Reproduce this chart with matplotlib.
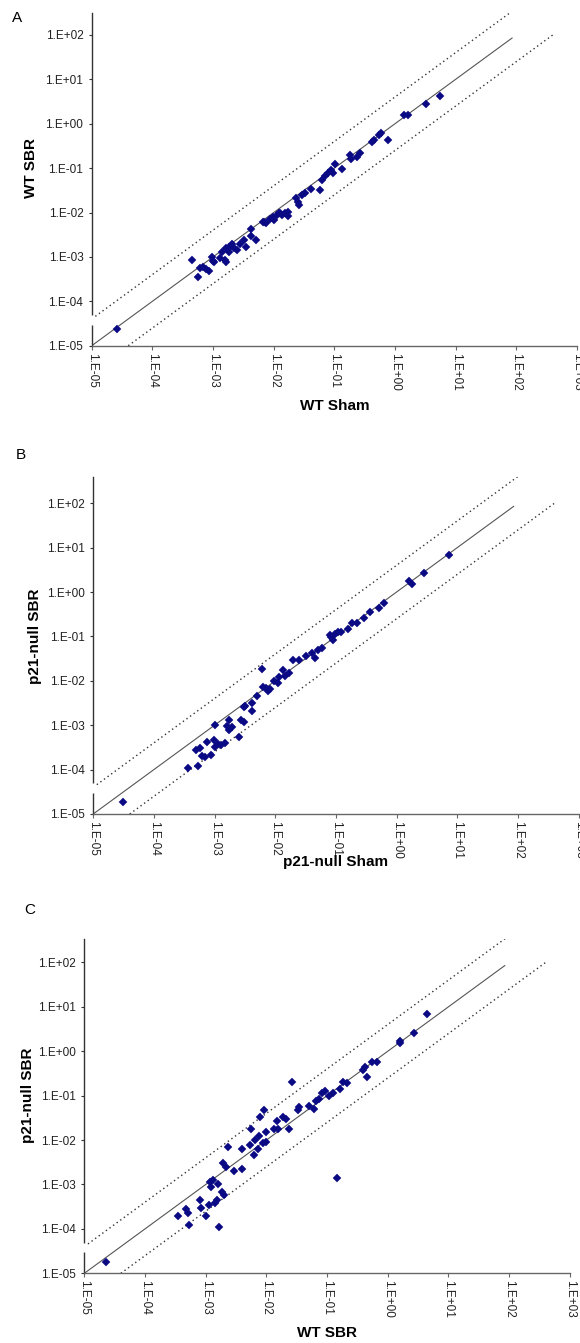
import numpy as np
import matplotlib
matplotlib.use("Agg")
import matplotlib.pyplot as plt
from matplotlib.ticker import FixedLocator, NullLocator

plt.rcParams['font.family'] = ['Liberation Sans', 'DejaVu Sans']

# values, stored as log10
a_sham = [-4.59, -3.35, -3.25, -3.22, -3.17, -3.11, -3.07, -3.02, -2.99, -2.88,
          -2.79, -2.85, -2.78, -2.73, -2.70, -2.66, -2.61, -2.55, -2.49, -2.46,
          -2.38, -2.37, -2.29, -2.18, -2.12, -2.06, -2.00, -1.95, -1.91, -1.87,
          -1.82, -1.77, -1.77, -1.63, -1.60, -1.59, -1.54, -1.48, -1.39, -1.24,
          -1.21, -1.15, -1.10, -1.05, -1.02, -0.99, -0.87, -0.75, -0.73, -0.63,
          -0.57, -0.38, -0.35, -0.26, -0.23, -0.11, 0.15, 0.21, 0.51, 0.74,
          -3.00, -2.69, -2.16, -2.02, -1.90, -2.74, -2.80]
a_sbr = [-4.63, -3.07, -3.45, -3.26, -3.22, -3.28, -3.31, -3.00, -3.11, -3.03,
         -3.11, -2.88, -2.81, -2.88, -2.76, -2.81, -2.85, -2.70, -2.61, -2.77,
         -2.53, -2.38, -2.61, -2.21, -2.23, -2.15, -2.17, -2.06, -2.00, -2.06,
         -2.02, -2.08, -1.98, -1.68, -1.76, -1.83, -1.61, -1.55, -1.46, -1.49,
         -1.27, -1.18, -1.10, -1.04, -1.12, -0.91, -1.03, -0.71, -0.80, -0.74,
         -0.65, -0.41, -0.37, -0.26, -0.20, -0.37, 0.20, 0.19, 0.44, 0.63,
         -3.09, -2.71, -2.21, -2.11, -2.00, -2.77, -3.07]

b_sham = [-4.51, -3.44, -3.27, -3.30, -3.24, -3.21, -3.15, -3.13, -3.06, -3.01,
          -2.99, -3.00, -2.94, -2.89, -2.82, -2.80, -2.77, -2.76, -2.71, -2.59,
          -2.57, -2.51, -2.52, -2.50, -2.39, -2.38, -2.30, -2.21, -2.20, -2.16,
          -2.12, -2.09, -2.02, -1.96, -1.93, -1.87, -1.84, -1.78, -1.71, -1.60,
          -1.49, -1.40, -1.34, -1.30, -1.23, -1.09, -1.05, -0.96, -0.91, -0.80,
          -0.74, -0.65, -0.53, -0.44, -0.29, -0.20, 0.20, 0.26, 0.45, 0.87,
          -1.08, -1.01]
b_sbr = [-4.74, -3.97, -3.92, -3.56, -3.52, -3.69, -3.72, -3.37, -3.67, -3.33,
         -2.99, -3.48, -3.42, -3.44, -3.39, -3.02, -2.88, -3.11, -3.05, -3.26,
         -2.88, -2.92, -2.60, -2.57, -2.69, -2.49, -2.34, -1.74, -2.13, -2.17,
         -2.22, -2.19, -2.00, -2.04, -1.92, -1.75, -1.90, -1.83, -1.54, -1.53,
         -1.45, -1.38, -1.49, -1.30, -1.27, -0.97, -1.08, -0.91, -0.89, -0.84,
         -0.70, -0.69, -0.59, -0.44, -0.36, -0.24, 0.24, 0.18, 0.42, 0.84,
         -1.01, -0.95]

c_wt = [-4.64, -3.45, -3.33, -3.29, -3.28, -3.10, -3.07, -3.00, -2.95, -2.93,
        -2.91, -2.88, -2.85, -2.82, -2.78, -2.79, -2.73, -2.70, -2.72, -2.66,
        -2.63, -2.54, -2.40, -2.40, -2.27, -2.26, -2.21, -2.18, -2.13, -2.12,
        -2.10, -2.06, -2.04, -2.01, -2.00, -1.87, -1.83, -1.80, -1.73, -1.68,
        -1.62, -1.57, -1.48, -1.46, -1.30, -1.21, -1.18, -1.13, -1.09, -1.04,
        -0.96, -0.90, -0.84, -0.79, -0.73, -0.67, -0.41, -0.38, -0.34, -0.26,
        -0.17, 0.20, 0.20, 0.44, 0.65]
c_p21 = [-4.75, -3.72, -3.56, -3.65, -3.91, -3.36, -3.54, -3.70, -3.46, -2.94,
         -3.05, -2.90, -3.41, -3.35, -3.96, -3.00, -3.16, -3.24, -2.51, -2.60,
         -2.16, -2.69, -2.21, -2.64, -2.11, -1.74, -2.34, -2.00, -2.21, -1.91,
         -1.49, -2.07, -1.32, -2.04, -1.81, -1.76, -1.56, -1.74, -1.47, -1.53,
         -1.74, -0.70, -1.32, -1.25, -1.23, -1.31, -1.11, -1.08, -0.95, -0.89,
         -1.01, -0.95, -2.86, -0.86, -0.69, -0.71, -0.42, -0.35, -0.59, -0.24,
         -0.24, 0.19, 0.24, 0.42, 0.83]

panels = ['A', 'B', 'C']
x_labels = ['WT Sham', 'p21-null Sham', 'WT SBR']
y_labels = ['WT SBR', 'p21-null SBR', 'p21-null SBR']
x_data = [a_sham, b_sham, c_wt]
y_data = [a_sbr, b_sbr, c_p21]

fold = 4.0
identity_x = [1e-5, 85]
upper_x = [1e-5, 100]
lower_x = [4e-5, 400]

tick_vals = [1e-5, 1e-4, 1e-3, 1e-2, 1e-1, 1e0, 1e1, 1e2, 1e3]
tick_text = ['1.E-05', '1.E-04', '1.E-03', '1.E-02', '1.E-01', '1.E+00',
             '1.E+01', '1.E+02', '1.E+03']

W, H = 580, 1343
# left, right, top, bottom in pixels, y top exponent
boxes = [(91.75, 577.0, 12.7, 345.7, 2.5),
         (93.2, 578.6, 476.6, 814.0, 2.6),
         (84.35, 569.7, 938.5, 1273.3, 2.54)]
ylab_pos = [(31.4, 167.5), (35.0, 636.0), (27.7, 1095.0)]
letter_pos = [(16.6, 18.3), (21.0, 455.0), (29.6, 910.0)]
xlab_y = [406, 862, 1333]

fig = plt.figure(figsize=(W / 100, H / 100), dpi=100)

for i in range(3):
    l, r, t, b, ytop = boxes[i]
    ax = fig.add_axes([l / W, 1 - b / H, (r - l) / W, (b - t) / H])
    ax.set_xscale('log')
    ax.set_yscale('log')
    ax.set_xlim(1e-5, 1e3)
    ax.set_ylim(1e-5, 10 ** ytop)

    ax.plot(identity_x, identity_x, color='#555555', lw=0.8)
    ux = np.array(upper_x)
    ax.plot(ux, ux * fold, color='#333333', lw=1.0, ls=(0, (1, 2.2)))
    lx = np.array(lower_x)
    ax.plot(lx, lx / fold, color='#333333', lw=1.0, ls=(0, (1, 2.2)))

    ax.plot(10 ** np.array(x_data[i]), 10 ** np.array(y_data[i]), 'D',
            color='#0a0a85', markersize=4.0, markeredgewidth=0.3,
            markeredgecolor='#0a0a85', clip_on=False)

    for s in ['top', 'right']:
        ax.spines[s].set_visible(False)
    ax.spines['left'].set_color('#333333')
    ax.spines['bottom'].set_color('#666666')
    ax.spines['left'].set_linewidth(1.0)
    ax.spines['bottom'].set_linewidth(1.0)
    # small break in the y axis line where the upper band starts
    ax.plot([1e-5, 1e-5], [3.0e-5, 4.9e-5], color='white', lw=2.5,
            clip_on=False, zorder=4, solid_capstyle='butt')

    ax.xaxis.set_major_locator(FixedLocator(tick_vals))
    ax.xaxis.set_minor_locator(NullLocator())
    ax.set_xticklabels(tick_text, rotation=-90, fontsize=8.5, color='#222222')
    ax.yaxis.set_major_locator(FixedLocator(tick_vals[:-1]))
    ax.yaxis.set_minor_locator(NullLocator())
    ax.set_yticklabels(tick_text[:-1], fontsize=8.5, color='#222222')
    ax.tick_params(axis='x', length=3, width=0.8, color='#666666', pad=2)
    ax.tick_params(axis='y', length=2.5, width=0.8, color='#333333', pad=3.5)

    # axis titles placed in figure pixels
    yx, yy = ylab_pos[i]
    fig.text(yx / W, 1 - yy / H, y_labels[i], rotation=90, ha='center',
             va='center', fontsize=11, fontweight='bold')
    fig.text((l + r) / 2 / W, 1 - xlab_y[i] / H, x_labels[i], ha='center',
             va='center', fontsize=11, fontweight='bold')
    px, py = letter_pos[i]
    fig.text(px / W, 1 - py / H, panels[i], ha='center', va='center',
             fontsize=11)

fig.savefig('out.png', dpi=100)
